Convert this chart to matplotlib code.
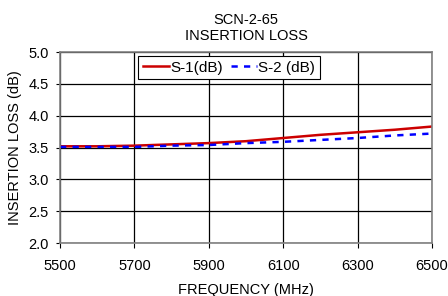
import matplotlib
matplotlib.use("Agg")
import matplotlib.pyplot as plt

plt.rcParams['font.family'] = ['Liberation Sans', 'DejaVu Sans']

freq = [5500, 5600, 5700, 5800, 5900, 6000, 6100, 6200, 6300, 6400, 6500]
s1 = [3.52, 3.52, 3.53, 3.55, 3.57, 3.60, 3.65, 3.70, 3.74, 3.78, 3.83]
s2 = [3.51, 3.51, 3.51, 3.53, 3.54, 3.57, 3.59, 3.62, 3.65, 3.69, 3.72]
xticks = [5500, 5700, 5900, 6100, 6300, 6500]
yticks = [2.0, 2.5, 3.0, 3.5, 4.0, 4.5, 5.0]

fig = plt.figure(figsize=(4.48, 2.96), dpi=100)
ax = fig.add_axes([0.134, 0.179, 0.830, 0.645])

ax.plot(freq, s1, color='#cc0000', lw=1.8, label='S-1(dB)')
ax.plot(freq, s2, color='#0000ff', lw=1.8, ls=(0, (2.5, 2.5)), label='S-2 (dB)')

ax.set_xlim(5500, 6500)
ax.set_ylim(2.0, 5.0)
ax.set_xticks(xticks)
ax.set_yticks(yticks)
ax.set_yticklabels([f"{v:.1f}" for v in yticks])
ax.grid(True, color='black', lw=0.9)
for s in ax.spines.values():
    s.set_color('#808080')
    s.set_linewidth(1.2)
ax.tick_params(labelsize=10.5, color='black')
ax.tick_params(axis='x', length=3.5, pad=8)
ax.tick_params(axis='y', length=3, pad=5)

ax.set_xlabel('FREQUENCY (MHz)', fontsize=10.5, labelpad=7)
ax.set_ylabel('INSERTION LOSS (dB)', fontsize=10.5, labelpad=5)
ax.set_title('SCN-2-65\nINSERTION LOSS', fontsize=10.5, linespacing=1.15, pad=9)

leg = ax.legend(loc='upper center', ncol=2, fontsize=11, fancybox=False,
                edgecolor='black', framealpha=1, handlelength=1.7,
                handletextpad=0.1, columnspacing=0.5, borderpad=0.3,
                borderaxespad=0, bbox_to_anchor=(0.454, 0.979))
leg.get_frame().set_linewidth(0.8)

fig.savefig('out.png', dpi=100)
